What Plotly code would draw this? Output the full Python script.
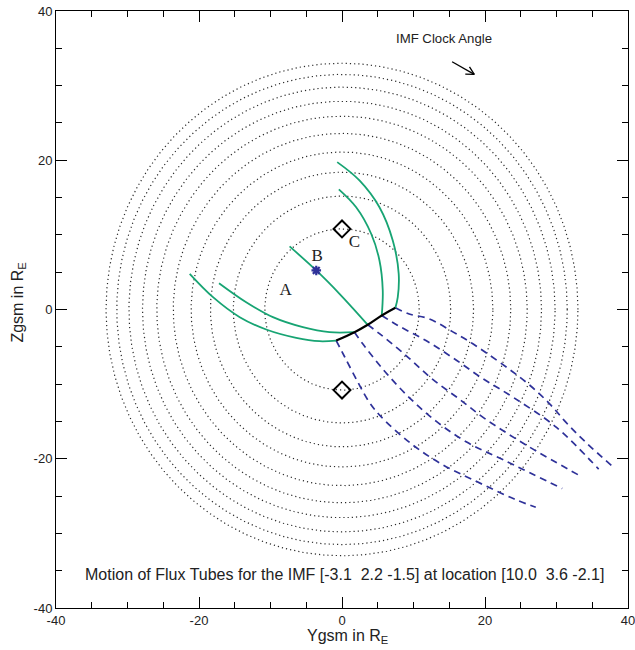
import numpy as np
import plotly.graph_objects as go

# ---------------- data ----------------
circle_radii = [10.8, 15.2, 18.4, 21.1, 23.6, 25.9, 27.9, 29.8, 31.5, 33.0]

# green flux-tube field lines (Ygsm, Zgsm)
green_c_outer_y = [-0.67, 2.44, 5.24, 7.1, 7.93, 7.8, 7.47]
green_c_outer_z = [19.75, 17.3, 13.7, 9.25, 4.79, 1.65, 0.23]
green_c_inner_y = [-0.44, 1.98, 4.08, 5.24, 5.7, 5.56]
green_c_inner_z = [16.1, 13.7, 10.15, 6.57, 2.55, -0.8]
green_b_y = [-7.33, -3.6, -0.35, 3.6]
green_b_z = [8.45, 5.23, 2.1, -2.05]
green_a_outer_y = [-21.3, -18.04, -14.3, -10.6, -6.4, -3.14, -0.81]
green_a_outer_z = [4.78, 1.65, -1.03, -2.68, -3.8, -4.25, -4.16]
green_a_inner_y = [-17.2, -13.4, -9.66, -5.47, -1.75, 1.75]
green_a_inner_z = [3.53, 0.98, -1.03, -2.37, -3.04, -3.04]

# black reconnection segment
black_y = [-0.81, 1.75, 3.6, 5.56, 7.47]
black_z = [-4.16, -3.04, -2.05, -0.8, 0.23]

# blue dashed flux-tube trajectories
blue1_y = [-0.81, 0.4, 2.2, 3.8, 5.5, 9.7, 13.9, 18.5, 24.1, 27.1]
blue1_z = [-4.16, -6.4, -9.7, -12.4, -14.4, -18.0, -20.7, -22.9, -25.4, -26.5]
blue2_y = [1.75, 2.9, 5.9, 9.4, 13.2, 17.5, 22.9, 30.8]
blue2_z = [-3.04, -4.6, -8.2, -11.8, -15.0, -17.8, -20.3, -24.0]
blue3_y = [3.6, 5.2, 9.0, 12.6, 16.4, 20.1, 26.0, 33.5]
blue3_z = [-2.05, -3.2, -6.2, -9.3, -12.0, -14.7, -18.3, -22.4]
blue4_y = [5.56, 7.75, 11.8, 15.7, 19.6, 24.0, 30.0, 35.9]
blue4_z = [-0.8, -2.1, -4.2, -6.6, -9.2, -11.8, -15.8, -21.4]
blue5_y = [7.47, 9.4, 12.2, 15.5, 18.3, 25.7, 29.0, 31.3, 34.1, 37.8]
blue5_z = [0.23, -0.6, -1.25, -3.0, -4.6, -9.7, -12.6, -15.1, -17.8, -21.0]

diamond_y = [0.0, 0.0]
diamond_z = [10.8, -10.8]
star_y = [-3.6]
star_z = [5.23]

point_labels = ["A", "B", "C"]
point_label_y = [-7.9, -3.47, 1.75]
point_label_z = [2.55, 7.1, 9.0]

imf_arrow_tail = [15.4, 33.2]
imf_arrow_head = [18.5, 31.5]

axis_range = [-40, 40]
major_ticks = [-40, -20, 0, 20, 40]
major_tick_text = ["-40", "-20", "0", "20", "40"]
minor_step = 5

caption = ("Motion of Flux Tubes for the IMF [-3.1\u00a0\u00a02.2 -1.5] "
           "at location [10.0\u00a0\u00a03.6 -2.1]")

# ---------------- styling ----------------
W, H = 635, 650
ML, MR, MT, MB = 56, 7, 11, 42
GREEN = "#17a473"
BLUE = "#2e3199"
SANS = "Liberation Sans, Arial, sans-serif"
SERIF = "Liberation Serif, Times New Roman, serif"

fig = go.Figure()

theta = np.linspace(0, 2 * np.pi, 721)
for r in circle_radii:
    fig.add_trace(go.Scatter(x=r * np.cos(theta), y=r * np.sin(theta), mode="lines",
                             line=dict(color="#2a2a2a", width=1.2, dash="1.2px,3px"),
                             hoverinfo="skip"))

for by, bz in [(blue1_y, blue1_z), (blue2_y, blue2_z), (blue3_y, blue3_z),
               (blue4_y, blue4_z), (blue5_y, blue5_z)]:
    fig.add_trace(go.Scatter(x=by, y=bz, mode="lines",
                             line=dict(color=BLUE, width=1.7, dash="7px,5px", shape="spline",
                                       smoothing=1.0)))

for gy, gz in [(green_c_outer_y, green_c_outer_z), (green_c_inner_y, green_c_inner_z),
               (green_b_y, green_b_z), (green_a_outer_y, green_a_outer_z),
               (green_a_inner_y, green_a_inner_z)]:
    fig.add_trace(go.Scatter(x=gy, y=gz, mode="lines",
                             line=dict(color=GREEN, width=1.8, shape="spline", smoothing=1.0)))

fig.add_trace(go.Scatter(x=black_y, y=black_z, mode="lines",
                         line=dict(color="black", width=2.2, shape="spline")))

fig.add_trace(go.Scatter(x=diamond_y, y=diamond_z, mode="markers",
                         marker=dict(symbol="diamond-open", size=13, color="black",
                                     line=dict(width=2, color="black"))))
fig.add_trace(go.Scatter(x=star_y, y=star_z, mode="markers",
                         marker=dict(symbol="asterisk-open", size=8, color=BLUE,
                                     line=dict(width=2.2, color=BLUE))))

fig.add_trace(go.Scatter(x=point_label_y, y=point_label_z, mode="text", text=point_labels,
                         textfont=dict(family=SERIF, size=17, color="#222222")))

# IMF clock-angle arrow (shaft + open V head)
pw, ph = W - ML - MR, H - MT - MB
sx = pw / (axis_range[1] - axis_range[0])
sy = ph / (axis_range[1] - axis_range[0])
dxp = (imf_arrow_head[0] - imf_arrow_tail[0]) * sx
dyp = (imf_arrow_head[1] - imf_arrow_tail[1]) * sy
ang = np.arctan2(dyp, dxp)
wing = 9.0
spread = np.radians(28)
wx = [imf_arrow_head[0] - wing * np.cos(ang + s) / sx for s in (spread, -spread)]
wy = [imf_arrow_head[1] - wing * np.sin(ang + s) / sy for s in (spread, -spread)]
fig.add_trace(go.Scatter(x=[imf_arrow_tail[0], imf_arrow_head[0]],
                         y=[imf_arrow_tail[1], imf_arrow_head[1]], mode="lines",
                         line=dict(color="black", width=1.3)))
fig.add_trace(go.Scatter(x=[wx[0], imf_arrow_head[0], wx[1]],
                         y=[wy[0], imf_arrow_head[1], wy[1]], mode="lines",
                         line=dict(color="black", width=1.3)))

axis_common = dict(
    range=axis_range, tickmode="array", tickvals=major_ticks, ticktext=major_tick_text,
    ticks="inside", ticklen=11, tickwidth=1, ticklabeloverflow="allow",
    tickcolor="black", showline=True, linecolor="black", linewidth=1, mirror="ticks",
    showgrid=False, zeroline=False, fixedrange=True, automargin=False,
    tickfont=dict(family=SANS, size=13, color="#222222"),
    minor=dict(dtick=minor_step, ticks="inside", ticklen=6, tickwidth=1, tickcolor="black",
               showgrid=False),
)

fig.update_layout(
    width=W, height=H, margin=dict(l=ML, r=MR, t=MT, b=MB, autoexpand=False),
    paper_bgcolor="white", plot_bgcolor="white", showlegend=False,
    xaxis=axis_common, yaxis=axis_common,
    annotations=[
        dict(text=caption, x=0.3, y=-35.5, xref="x", yref="y", showarrow=False,
             font=dict(family=SANS, size=16, color="#222222")),
        dict(text="IMF Clock Angle", x=14.3, y=36.3, xref="x", yref="y", showarrow=False,
             font=dict(family=SANS, size=13.2, color="#222222")),
        dict(text="Ygsm in R<sub>E</sub>", x=0.51, y=-0.048, xref="paper", yref="paper",
             showarrow=False, yanchor="middle",
             font=dict(family=SANS, size=16, color="#222222")),
        dict(text="Zgsm in R<sub>E</sub>", x=-0.066, y=0.512, xref="paper", yref="paper",
             showarrow=False, textangle=-90, xanchor="center",
             font=dict(family=SANS, size=16, color="#222222")),
    ],
)

fig.write_html("out.html", config={"displayModeBar": False},
               post_script="document.body.style.margin='0px';document.body.style.overflow='hidden';")
